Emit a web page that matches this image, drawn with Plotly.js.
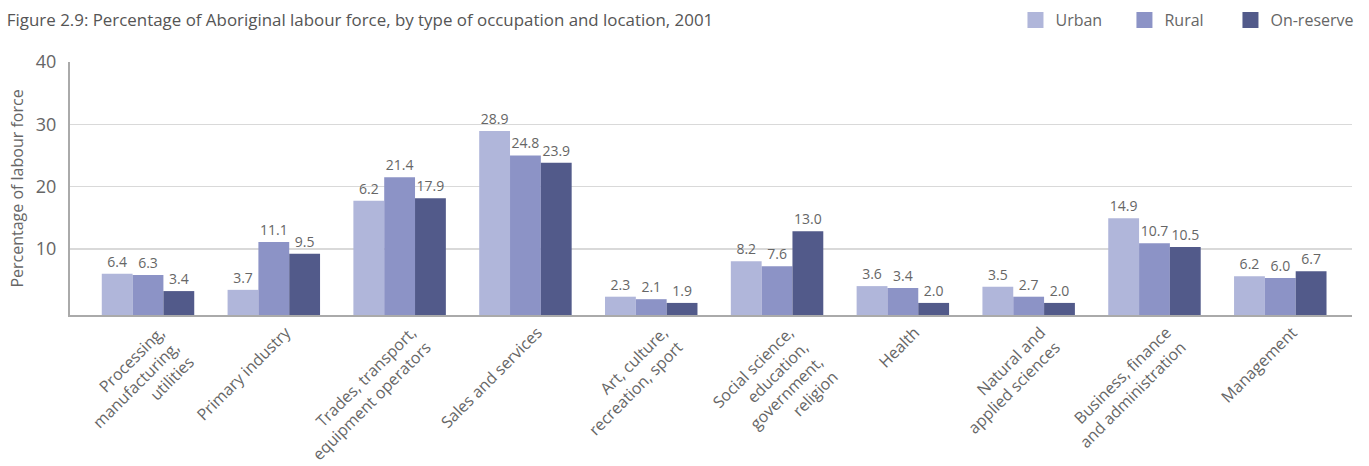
<!DOCTYPE html>
<html>
<head>
<meta charset="utf-8">
<script src="https://cdn.plot.ly/plotly-3.0.1.min.js"></script>
<style>html,body{margin:0;padding:0;background:#fff;}#chart{width:1369px;height:466px;}</style>
</head>
<body>
<div id="chart"></div>
<script>
const categories = [
  "Processing,<br>manufacturing,<br>utilities",
  "Primary industry",
  "Trades, transport,<br>equipment operators",
  "Sales and services",
  "Art, culture,<br>recreation, sport",
  "Social science,<br>education,<br>government,<br>religion",
  "Health",
  "Natural and<br>applied sciences",
  "Business, finance<br>and administration",
  "Management"
];
const seriesNames = ["Urban", "Rural", "On-reserve"];
// bar heights as drawn in the picture
const urbanValues  = [6.0, 3.4, 17.7, 28.9, 2.3, 8.0, 4.0, 3.9, 14.9, 5.6];
const ruralValues  = [5.8, 11.1, 21.5, 25.0, 1.9, 7.2, 3.7, 2.3, 10.9, 5.3];
const onresValues  = [3.2, 9.2, 18.1, 23.8, 1.3, 12.8, 1.3, 1.3, 10.3, 6.4];
// data labels as printed
const urbanLabels  = ["6.4","3.7","6.2","28.9","2.3","8.2","3.6","3.5","14.9","6.2"];
const ruralLabels  = ["6.3","11.1","21.4","24.8","2.1","7.6","3.4","2.7","10.7","6.0"];
const onresLabels  = ["3.4","9.5","17.9","23.9","1.9","13.0","2.0","2.0","10.5","6.7"];
const yTicks = [10, 20, 30, 40];

const colors = ["#b0b6da", "#8c93c6", "#525a8a"];
const FONT = "Open Sans, sans-serif";
const TXT = "#666666";
const yMin = -0.64;

function mk(name, vals, labels, color) {
  return {
    type: "bar",
    name: name,
    x: categories,
    y: vals.map(v => v - yMin),
    base: yMin,
    text: labels,
    textposition: "outside",
    constraintext: "none",
    cliponaxis: false,
    textfont: {family: FONT, size: 14, color: TXT},
    marker: {color: color},
    showlegend: false,
    hoverinfo: "skip"
  };
}
// legend keys (larger square swatches, no data)
function key(name, color, legendId) {
  return {
    type: "scatter", mode: "markers", name: name,
    x: [null], y: [null],
    marker: {symbol: "square", size: 18, color: color},
    showlegend: true, legend: legendId, hoverinfo: "skip"
  };
}

const data = [
  mk(seriesNames[0], urbanValues, urbanLabels, colors[0]),
  mk(seriesNames[1], ruralValues, ruralLabels, colors[1]),
  mk(seriesNames[2], onresValues, onresLabels, colors[2]),
  key(seriesNames[0], colors[0], "legend"),
  key(seriesNames[1], colors[1], "legend2"),
  key(seriesNames[2], colors[2], "legend3")
];

function legendAt(x) {
  return {
    orientation: "h", x: x, xanchor: "left", y: 1.166, yanchor: "middle",
    font: {family: FONT, size: 16, color: TXT},
    itemsizing: "trace", bgcolor: "rgba(0,0,0,0)"
  };
}

const layout = {
  width: 1369, height: 466,
  margin: {l: 70, r: 17, t: 62, b: 151, autoexpand: false},
  paper_bgcolor: "#fff", plot_bgcolor: "#fff",
  font: {family: FONT, color: TXT},
  barmode: "group",
  bargap: 0.265,
  bargroupgap: 0,
  title: {
    text: "Figure 2.9: Percentage of Aboriginal labour force, by type of occupation and location, 2001",
    x: 0.005, xanchor: "left", y: 0.957, yanchor: "middle",
    font: {family: FONT, size: 16.9, color: "#555"}
  },
  showlegend: true,
  legend: legendAt(0.7375),
  legend2: legendAt(0.8225),
  legend3: legendAt(0.9052),
  xaxis: {
    type: "category",
    range: [-0.62, 9.57],
    tickangle: -45,
    ticklabelshift: 12,
    tickfont: {family: FONT, size: 16, color: TXT},
    showline: true, linecolor: "#aaaaaa", linewidth: 2,
    ticks: "", showgrid: false, zeroline: false
  },
  yaxis: {
    range: [yMin, 40],
    tickvals: yTicks,
    ticktext: yTicks.map(String),
    tickfont: {family: FONT, size: 18, color: TXT},
    ticklabelstandoff: 8,
    showline: true, linecolor: "#aaaaaa", linewidth: 2,
    showgrid: true, gridcolor: "#d9d9d9", gridwidth: 1.5,
    zeroline: false, ticks: "",
    title: {text: "Percentage of labour force", font: {family: FONT, size: 16, color: TXT}, standoff: 8}
  }
};

Plotly.newPlot("chart", data, layout, {displayModeBar: false, staticPlot: true});
</script>
</body>
</html>
